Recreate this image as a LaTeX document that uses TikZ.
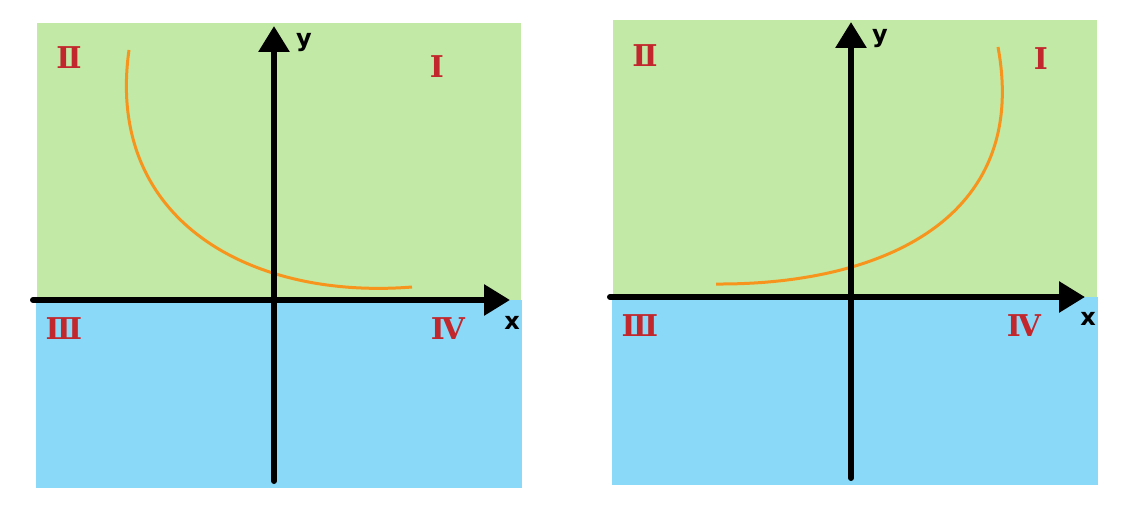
\documentclass[tikz,border=0pt]{standalone}
\usepackage{fontspec}
\setmainfont{DejaVu Sans}
\newfontfamily\numfont{DejaVu Serif}
\usetikzlibrary{arrows.meta}
\definecolor{quadgreen}{HTML}{C2E9A5}
\definecolor{quadblue}{HTML}{8BD9F8}
\definecolor{numred}{HTML}{C1272D}
\definecolor{curveorange}{HTML}{F7941D}
\tikzset{
  axis/.style={line width=6pt, line cap=round, -{Triangle[length=26pt,width=30pt]}},
  curve/.style={line width=3pt, color=curveorange},
  numeral/.style={inner sep=0pt, color=numred, font=\numfont\fontsize{30}{30}\selectfont\bfseries},
  axlabel/.style={inner sep=0pt, anchor=base, font=\fontsize{24}{24}\selectfont\bfseries}
}

\begin{document}
\begin{tikzpicture}[x=1pt, y=-1pt]
			%%%%% START %%%%%
			\useasboundingbox (0, 0) rectangle (1130, 505);
			
			% left picture
			\fill[quadgreen] (37, 23) rectangle (521, 300);
			\fill[quadblue] (36, 300) rectangle (522, 488);
			
			\node[numeral] (twoL) at (69, 58) {Ⅱ};
			\node[numeral] (oneL) at (437, 67) {Ⅰ};
			\node[numeral] (threeL) at (64, 329) {Ⅲ};
			\node[numeral] (fourL) at (448, 329) {Ⅳ};
			
			\draw[curve] (129, 50) .. controls (105, 220) and (250, 300) .. (412, 287);
			
			\coordinate (xtailL) at (33, 300);
			\coordinate (xtipL) at (510, 300);
			\coordinate (ytailL) at (274, 481);
			\coordinate (ytipL) at (274, 26);
			\draw[axis] (xtailL) -- (xtipL);
			\draw[axis] (ytailL) -- (ytipL);
			\node[axlabel] (xL) at (512, 329) {x};
			\node[axlabel] (yL) at (304, 47) {y};
			
			% right picture
			\fill[quadgreen] (613, 20) rectangle (1097, 297);
			\fill[quadblue] (612, 297) rectangle (1098, 485);
			
			\node[numeral] (twoR) at (645, 56) {Ⅱ};
			\node[numeral] (oneR) at (1041, 59) {Ⅰ};
			\node[numeral] (threeR) at (640, 326) {Ⅲ};
			\node[numeral] (fourR) at (1024, 326) {Ⅳ};
			
			\draw[curve] (998, 47) .. controls (1030, 220) and (880, 285) .. (716, 284);
			
			\coordinate (xtailR) at (610, 297);
			\coordinate (xtipR) at (1085, 297);
			\coordinate (ytailR) at (851, 478);
			\coordinate (ytipR) at (851, 22);
			\draw[axis] (xtailR) -- (xtipR);
			\draw[axis] (ytailR) -- (ytipR);
			\node[axlabel] (xR) at (1088, 325) {x};
			\node[axlabel] (yR) at (880, 43) {y};
			
			%%%%% END %%%%%
\end{tikzpicture}
\end{document}
